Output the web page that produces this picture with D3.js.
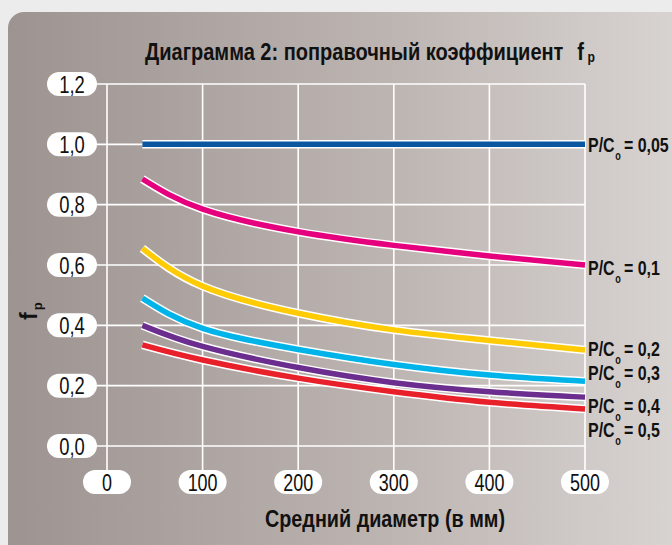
<!DOCTYPE html>
<html>
<head>
<meta charset="utf-8">
<script src="https://cdn.jsdelivr.net/npm/d3@7"></script>
<style>
  body { margin: 0; background: #ececec; }
  svg { display: block; }
  text { font-family: "Liberation Sans", Arial, sans-serif; }
</style>
</head>
<body>
<svg width="672" height="545"></svg>
<script>
// data
const xValues = [37, 100, 200, 300, 400, 500];
const seriesNames = ['0,05', '0,1', '0,2', '0,3', '0,4', '0,5'];
const seriesColors = ['#0a56a0', '#e5007d', '#ffcb05', '#00b3e8', '#6b2d8e', '#e8202a'];
const fp005 = [1.0, 1.0, 1.0, 1.0, 1.0, 1.0];
const fp01 = [0.885, 0.785, 0.71, 0.665, 0.63, 0.60];
const fp02 = [0.655, 0.53, 0.44, 0.385, 0.35, 0.318];
const fp03 = [0.49, 0.39, 0.32, 0.27, 0.235, 0.215];
const fp04 = [0.40, 0.33, 0.26, 0.21, 0.18, 0.162];
const fp05 = [0.335, 0.285, 0.225, 0.18, 0.145, 0.123];
const labelY = [1.0, 0.595, 0.325, 0.245, 0.135, 0.055]; // where the right labels sit
const xTicks = [0, 100, 200, 300, 400, 500];
const yTicks = [0, 0.2, 0.4, 0.6, 0.8, 1.0, 1.2];

const series = [fp005, fp01, fp02, fp03, fp04, fp05];

const svg = d3.select('svg');
const SX = 0.8; // condensed look

const x = d3.scaleLinear().domain([0, 500]).range([107, 585]);
const y = d3.scaleLinear().domain([0, 1.2]).range([446, 84]);

// panel background
const grad = svg.append('defs').append('linearGradient')
  .attr('id', 'bg').attr('x1', 0).attr('x2', 1).attr('y1', 0).attr('y2', 0);
grad.append('stop').attr('offset', '0%').attr('stop-color', '#9d9492');
grad.append('stop').attr('offset', '55%').attr('stop-color', '#bdb5b2');
grad.append('stop').attr('offset', '100%').attr('stop-color', '#dbd7d5');

svg.append('rect')
  .attr('x', 8).attr('y', 12)
  .attr('width', 700).attr('height', 560)
  .attr('rx', 16)
  .attr('fill', 'url(#bg)');

// title
const title = svg.append('text')
  .attr('transform', `translate(145,60) scale(0.87,1)`)
  .attr('font-size', 23).attr('font-weight', 'bold')
  .attr('fill', '#111');
title.append('tspan').text('Диаграмма 2: поправочный коэффициент');
title.append('tspan').attr('dx', 16).text('f');
title.append('tspan').attr('font-size', 14).attr('dx', 4).attr('dy', 2).text('p');

// grid
const grid = svg.append('g').attr('stroke', '#fff').attr('stroke-width', 1.6);
grid.selectAll('.hl').data(yTicks).enter().append('line')
  .attr('x1', 92).attr('x2', x(500))
  .attr('y1', d => y(d)).attr('y2', d => y(d));
grid.selectAll('.vl').data(xTicks).enter().append('line')
  .attr('x1', d => x(d)).attr('x2', d => x(d))
  .attr('y1', y(1.2)).attr('y2', 472);

// y tick pills
const yt = svg.append('g').selectAll('g').data(yTicks).enter().append('g')
  .attr('transform', d => `translate(72,${y(d)})`);
yt.append('rect')
  .attr('x', -25).attr('y', -12).attr('width', 50).attr('height', 24).attr('rx', 12)
  .attr('fill', '#fff');
yt.append('text')
  .attr('transform', `scale(0.8,1)`)
  .attr('text-anchor', 'middle').attr('dy', '0.37em')
  .attr('font-size', 23).attr('fill', '#111')
  .text(d => d3.format('.1f')(d).replace('.', ','));

// x tick pills
const xt = svg.append('g').selectAll('g').data(xTicks).enter().append('g')
  .attr('transform', d => `translate(${x(d)},482)`);
xt.append('rect')
  .attr('x', -24).attr('y', -12).attr('width', 48).attr('height', 24).attr('rx', 12)
  .attr('fill', '#fff');
xt.append('text')
  .attr('transform', `scale(0.78,1)`)
  .attr('text-anchor', 'middle').attr('dy', '0.37em')
  .attr('font-size', 23).attr('fill', '#111')
  .text(d => d);

// axis titles
svg.append('text')
  .attr('transform', `translate(385,527) scale(0.86,1)`)
  .attr('text-anchor', 'middle')
  .attr('font-size', 23).attr('font-weight', 'bold').attr('fill', '#111')
  .text('Средний диаметр (в мм)');

const yl = svg.append('text')
  .attr('transform', 'translate(37,320) rotate(-90)')
  .attr('font-size', 23).attr('font-weight', 'bold').attr('fill', '#111');
yl.append('tspan').text('f');
yl.append('tspan').attr('font-size', 13).attr('dy', 5).attr('dx', 2).text('p');

// curves
const line = d3.line()
  .x((d, i) => x(xValues[i]))
  .y(d => y(d))
  .curve(d3.curveNatural);

const curves = svg.append('g');
series.forEach((s, i) => {
  curves.append('path')
    .attr('d', line(s))
    .attr('fill', 'none').attr('stroke', '#fff').attr('stroke-width', 8.5);
  curves.append('path')
    .attr('d', line(s))
    .attr('fill', 'none').attr('stroke', seriesColors[i]).attr('stroke-width', 5.5);
});

// series labels
const lab = svg.append('g').selectAll('text').data(seriesNames).enter().append('text')
  .attr('transform', (d, i) => `translate(588,${y(labelY[i]) + 8}) scale(0.76,1)`)
  .attr('font-size', 21).attr('font-weight', 'bold').attr('fill', '#111');
lab.append('tspan').text('P/C');
lab.append('tspan').attr('font-size', 12).attr('dy', 8).attr('dx', 1).text('o');
lab.append('tspan').attr('dy', -8).attr('dx', 4).text(d => '= ' + d);
</script>
</body>
</html>
